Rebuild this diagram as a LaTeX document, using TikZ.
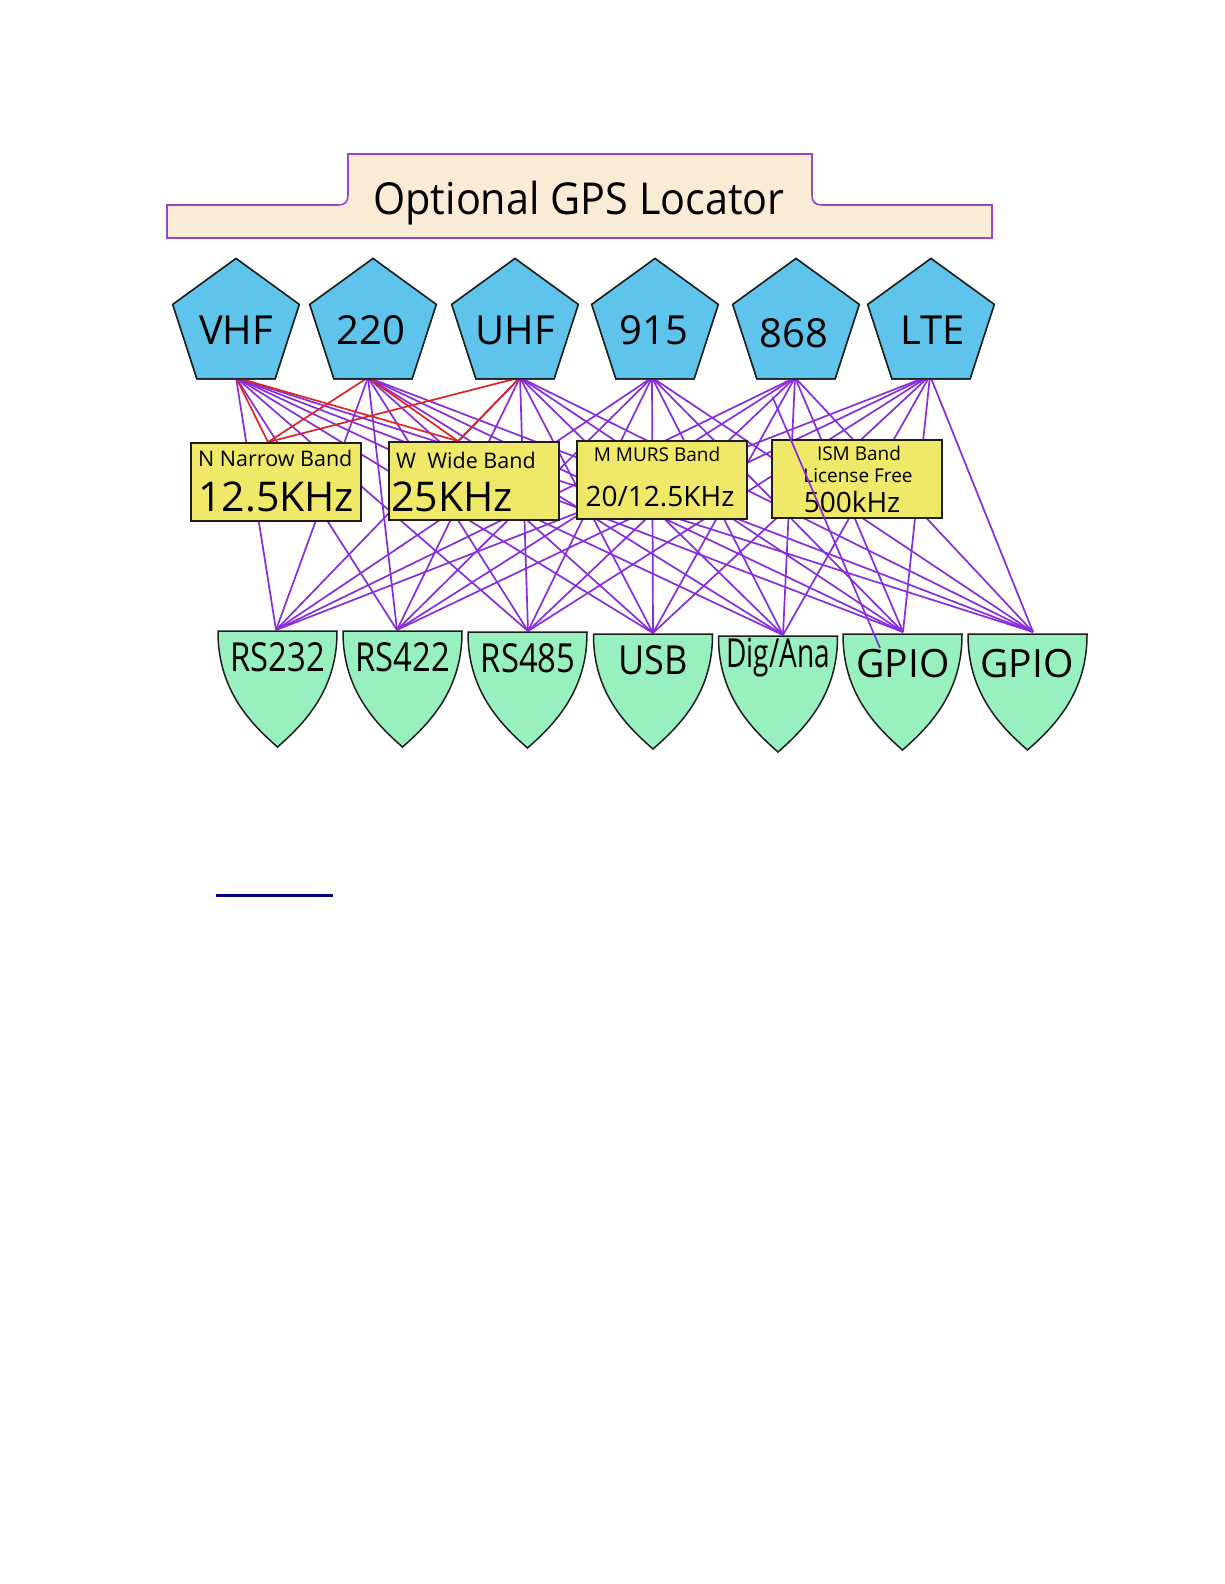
\documentclass[tikz,border=0pt]{standalone}
\usepackage{fontspec}
\setmainfont{Open Sans}
\newfontfamily\condA[FakeStretch=0.82]{Open Sans}
\newfontfamily\condB[FakeStretch=0.70]{Open Sans}
\newfontfamily\condC[FakeStretch=0.90]{Open Sans}
\newfontfamily\titlef[FakeStretch=0.94]{Open Sans}
\usetikzlibrary{shapes.geometric}
\definecolor{pentfill}{RGB}{94,196,236}
\definecolor{shieldfill}{RGB}{152,240,190}
\definecolor{boxfill}{RGB}{240,232,104}
\definecolor{bannerfill}{RGB}{250,235,215}
\definecolor{bannerline}{RGB}{150,70,200}
\definecolor{wire}{RGB}{135,45,220}
\definecolor{wirered}{RGB}{220,36,40}
\definecolor{navyline}{RGB}{0,0,128}
\definecolor{edgec}{RGB}{30,30,30}
\begin{document}
\begin{tikzpicture}[x=1pt,y=-1pt,
  pent/.style={regular polygon, regular polygon sides=5, minimum size=133pt, inner sep=0pt,
    draw=edgec, line width=1.5pt, fill=pentfill},
  pentlabel/.style={inner sep=0pt, font=\fontsize{40}{40}\selectfont},
  band/.style={draw=edgec, line width=1.8pt, fill=boxfill, minimum width=170pt, minimum height=78pt, inner sep=0pt},
  wireline/.style={draw=wire, line width=1.7pt},
  redline/.style={draw=wirered, line width=1.7pt},
  shieldshape/.style={draw=edgec, line width=1.5pt, fill=shieldfill},
  small/.style={inner sep=0pt, font=\fontsize{21.5}{21.5}\selectfont},
  smaller/.style={inner sep=0pt, font=\fontsize{19}{19}\selectfont},
  big/.style={inner sep=0pt, font=\fontsize{41}{41}\selectfont},
  mid/.style={inner sep=0pt, font=\fontsize{28}{28}\selectfont},
  slabel/.style={inner sep=0pt, font=\fontsize{40}{40}\selectfont},
]
\useasboundingbox (0,0) rectangle (1224,1584);
\fill[white] (0,0) rectangle (1224,1584);

% banner
\path[draw=bannerline, line width=1.6pt, fill=bannerfill]
  (167,238) -- (167,205) -- (338,205) .. controls (345,205) and (348,202) .. (348,195)
  -- (348,154) -- (812,154) -- (812,195) .. controls (812,202) and (815,205) .. (822,205)
  -- (992,205) -- (992,238) -- cycle;
\node[inner sep=0pt, font=\titlef\fontsize{44}{44}\selectfont] (title) at (579,203) {Optional GPS Locator};

% pentagons (shapes)
\node[pent] (p1) at (236,325) {};
\node[pent] (p2) at (373,325) {};
\node[pent] (p3) at (515,325) {};
\node[pent] (p4) at (655,325) {};
\node[pent] (p5) at (796,325) {};
\node[pent] (p6) at (931,325) {};
\coordinate (o1) at ([yshift=2pt]p1.side 3);
\coordinate (o2) at ([xshift=-5pt,yshift=2pt]p2.side 3);
\coordinate (o3) at ([xshift=5pt,yshift=2pt]p3.side 3);
\coordinate (o4) at ([xshift=-3pt,yshift=2pt]p4.side 3);
\coordinate (o5) at ([xshift=-1pt,yshift=2pt]p5.side 3);
\coordinate (o6) at ([xshift=-1pt,yshift=4pt]p6.side 3);
\coordinate (o5b) at ([xshift=16pt,yshift=-17pt]p5.corner 3);

% band boxes
\node[band] (nb) at (276,482) {};
\node[band] (wb) at (474,481) {};
\node[band] (mb) at (662,480) {};
\node[band] (ib) at (857,479) {};
\coordinate (nt) at ([xshift=-8pt]nb.north);
\coordinate (wt) at ([xshift=-16pt]wb.north);

% shield connection points
\coordinate (t1) at (276,630);
\coordinate (t2) at (397,630);
\coordinate (t3) at (528,631);
\coordinate (t4) at (653,633);
\coordinate (t5) at (783,635);
\coordinate (t6) at (903,632);
\coordinate (t7) at (1033,632);
\coordinate (t6in) at (880,648);

% wires
\foreach \i in {1,...,6} {
  \foreach \j in {1,...,7} {
    \draw[wireline] (o\i) -- (t\j);
  }
}
\foreach \i in {1,2,3} {
  \draw[redline] (o\i) -- (nt);
  \draw[redline] (o\i) -- (wt);
}

% boxes and pentagons on top of the wires
\node[band] (nb2) at (nb) {};
\node[band] (wb2) at (wb) {};
\node[band] (mb2) at (mb) {};
\node[band] (ib2) at (ib) {};
\node[pent] (q1) at (p1) {};
\node[pent] (q2) at (p2) {};
\node[pent] (q3) at (p3) {};
\node[pent] (q4) at (p4) {};
\node[pent] (q5) at (p5) {};
\node[pent] (q6) at (p6) {};
\node[pentlabel] (l1) at (236,330) {VHF};
\node[pentlabel] (l2) at (371,330) {220};
\node[pentlabel] (l3) at (515,330) {UHF};
\node[pentlabel] (l4) at (654,330) {915};
\node[pentlabel] (l5) at (794,333) {868};
\node[pentlabel] (l6) at (933,330) {LTE};

% box texts
\node[small, anchor=west] (n1) at (198,458) {N Narrow Band};
\node[big, anchor=west] (n2) at (198,497) {12.5KHz};
\node[small, anchor=west] (w1) at (396,460) {W\ \ Wide Band};
\node[big, anchor=west] (w2) at (391,497) {25KHz};
\node[smaller] (m1) at (657,454) {M MURS Band};
\node[mid] (m2) at (660,497) {20/12.5KHz};
\node[smaller] (i1) at (859,453) {ISM Band};
\node[smaller] (i2) at (858,476) {License Free};
\node[mid] (i3) at (852,502) {500kHz};

% shields
\foreach \cx/\tp/\bt in {277.5/631/747, 402.5/631/747, 527.5/632/748, 653/634/749, 778/636/752, 902.5/634/750, 1027.5/634/750} {
  \path[shieldshape] (\cx-59.5,\tp) -- (\cx+59.5,\tp)
    .. controls (\cx+60,\tp+60) and (\cx+25,\bt-22) .. (\cx,\bt)
    .. controls (\cx-25,\bt-22) and (\cx-60,\tp+60) .. cycle;
}
\draw[wireline] (o5b) -- (t6in);
\node[slabel, font=\condA\fontsize{40}{40}\selectfont] (s1) at (277.5,657) {RS232};
\node[slabel, font=\condA\fontsize{40}{40}\selectfont] (s2) at (402.5,657) {RS422};
\node[slabel, font=\condA\fontsize{40}{40}\selectfont] (s3) at (528,658) {RS485};
\node[slabel, font=\condC\fontsize{40}{40}\selectfont] (s4) at (653,660) {USB};
\node[slabel, font=\condB\fontsize{40}{40}\selectfont] (s5) at (778,658) {Dig/Ana};
\node[slabel, font=\fontsize{39}{39}\selectfont] (s6) at (903,664) {GPIO};
\node[slabel, font=\fontsize{39}{39}\selectfont] (s7) at (1027,664) {GPIO};

% underline
\draw[navyline, line width=3pt] (216,895) -- (333,895);
\end{tikzpicture}
\end{document}
